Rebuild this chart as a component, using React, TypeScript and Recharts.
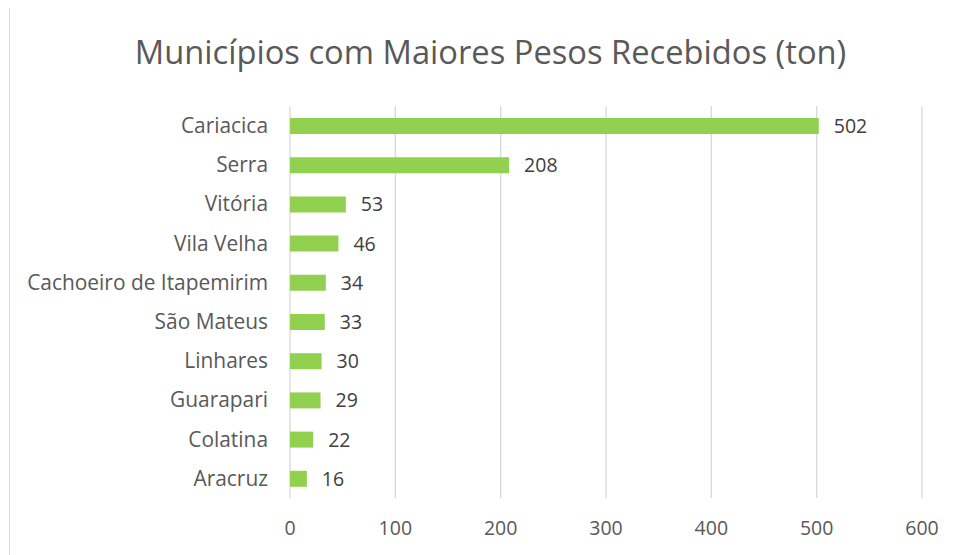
import { BarChart, Bar, XAxis, YAxis, CartesianGrid, LabelList } from "recharts";

const municipios = [
  "Cariacica",
  "Serra",
  "Vitória",
  "Vila Velha",
  "Cachoeiro de Itapemirim",
  "São Mateus",
  "Linhares",
  "Guarapari",
  "Colatina",
  "Aracruz",
];
const pesos = [502, 208, 53, 46, 34, 33, 30, 29, 22, 16];
const xTicks = [0, 100, 200, 300, 400, 500, 600];

const data = municipios.map((name, i) => ({ name, peso: pesos[i] }));

const FONT = "'Open Sans', 'Noto Sans', sans-serif";
const TEXT = "#595959";

export default function App() {
  return (
    <div style={{ position: "relative", width: 948, height: 547, fontFamily: FONT }}>
      <div
        style={{
          position: "absolute",
          left: 1,
          top: -1,
          width: 1000,
          height: 600,
          border: "1px solid #d9d9d9",
          boxSizing: "border-box",
        }}
      />
      <div
        style={{
          position: "absolute",
          left: 0,
          width: 965,
          top: 22,
          textAlign: "center",
          fontSize: 32.7,
          color: TEXT,
          lineHeight: "44px",
        }}
      >
        Municípios com Maiores Pesos Recebidos (ton)
      </div>
      <div style={{ position: "absolute", left: 0, top: 0 }}>
        <BarChart
          width={948}
          height={547}
          data={data}
          layout="vertical"
          margin={{ top: 98, right: 34, left: 0, bottom: 0 }}
          barSize={16}
        >
          <CartesianGrid horizontal={false} stroke="#d9d9d9" strokeWidth={1.3} />
          <XAxis
            type="number"
            domain={[0, 600]}
            ticks={xTicks}
            axisLine={false}
            tickLine={false}
            height={57}
            tickMargin={17}
            tick={{ fontSize: 19.5, fill: TEXT, fontFamily: FONT }}
          />
          <YAxis
            type="category"
            dataKey="name"
            width={282}
            axisLine={false}
            tickLine={false}
            tickMargin={16}
            tick={{ fontSize: 20.9, fill: TEXT, fontFamily: FONT }}
          />
          <Bar dataKey="peso" fill="#92d050" isAnimationActive={false}>
            <LabelList
              dataKey="peso"
              position="right"
              offset={15}
              style={{ fontSize: 19.5, fill: "#404040", fontFamily: FONT }}
            />
          </Bar>
        </BarChart>
      </div>
    </div>
  );
}
